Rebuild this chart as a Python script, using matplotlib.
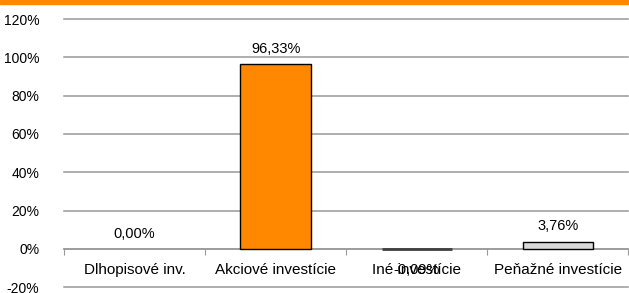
import matplotlib

matplotlib.use("Agg")
import matplotlib.pyplot as plt
import numpy as np

categories = ["Dlhopisové inv.", "Akciové investície", "Iné investície", "Peňažné investície"]
values = [0.00, 96.33, -0.09, 3.76]
value_labels = ["0,00%", "96,33%", "-0,09%", "3,76%"]
bar_colors = ["#d9d9d9", "#ff8800", "#404040", "#d9d9d9"]
y_ticks = [-20, 0, 20, 40, 60, 80, 100, 120]

plt.rcParams["font.family"] = ["Liberation Sans", "DejaVu Sans"]

fig = plt.figure(figsize=(6.29, 2.93), dpi=100)
ax = fig.add_axes([0.102, 0.02, 0.897, 0.915])

x = np.arange(len(categories))
edges = ["none" if v == 0 else ("#404040" if v < 0 else "black") for v in values]
widths = [1.0 if v >= 0 else 2.0 for v in values]
ax.bar(x, values, width=0.5, color=bar_colors, edgecolor=edges, linewidth=widths, zorder=3)

ax.set_xlim(-0.5, len(categories) - 0.5)
ax.set_ylim(-20, 120)
ax.set_yticks(y_ticks)
ax.set_yticklabels([f"{t}%" for t in y_ticks], fontsize=10)
ax.tick_params(axis="y", length=0, pad=18)
ax.yaxis.grid(True, color="#999999", linewidth=1.1, zorder=0)
for gl in ax.get_ygridlines():
    gl.set_clip_on(False)

for side in ["left", "right", "top"]:
    ax.spines[side].set_visible(False)
ax.spines["bottom"].set_position(("data", 0))
ax.spines["bottom"].set_color("#999999")
ax.spines["bottom"].set_linewidth(1.1)
ax.set_xticks(np.arange(-0.5, len(categories) - 0.4, 1.0))
ax.set_xticklabels([])
ax.tick_params(axis="x", length=4, color="#999999", direction="out")

for i, cat in enumerate(categories):
    ax.text(i, -11, cat, ha="center", va="center", fontsize=11)

for i, (v, lab) in enumerate(zip(values, value_labels)):
    if v >= 0:
        ax.annotate(lab, (i, v), xytext=(0, 6), textcoords="offset points",
                    ha="center", va="bottom", fontsize=10.5)
    else:
        ax.annotate(lab, (i, v), xytext=(0, -15), textcoords="offset points",
                    ha="center", va="center", fontsize=10.5)

fig.patches.append(plt.Rectangle((0, 0.987), 1, 0.015, transform=fig.transFigure,
                                 color="#ff8800", zorder=5))

fig.savefig("out.png", dpi=100)
plt.close(fig)
